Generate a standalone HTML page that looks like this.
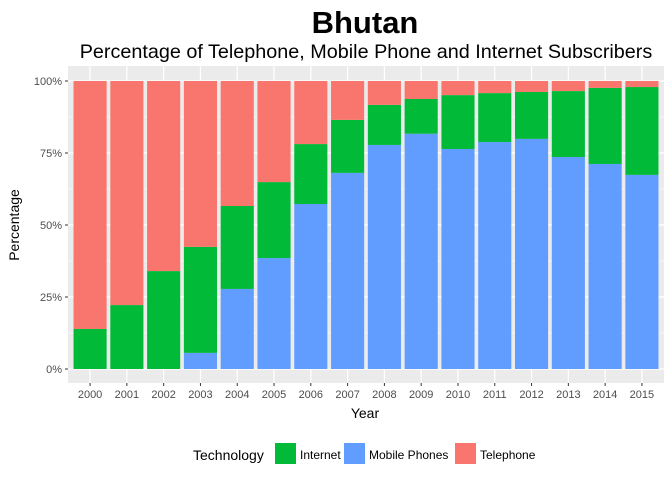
<!DOCTYPE html>
<html><head><meta charset="utf-8"><style>
body{margin:0;background:#fff;font-family:"Liberation Sans",sans-serif}
</style></head><body>
<svg id="chart" width="672" height="480" xmlns="http://www.w3.org/2000/svg">
<rect width="672" height="480" fill="#fff"/>
<text x="365" y="33" text-anchor="middle" font-size="31" font-weight="bold" fill="#000">Bhutan</text>
<text x="366" y="58" text-anchor="middle" font-size="19.8" fill="#000">Percentage of Telephone, Mobile Phone and Internet Subscribers</text>
<rect x="68" y="66" width="596" height="317" fill="#ebebeb"/>
<g id="grid"></g><g id="bars"></g><g id="axes"></g>
<text x="365" y="418" text-anchor="middle" font-size="14" fill="#000">Year</text>
<text transform="translate(19,225) rotate(-90)" text-anchor="middle" font-size="14" fill="#000">Percentage</text>
<g>
<text x="193" y="460" font-size="14" fill="#000">Technology</text>
<g><rect x="275" y="443" width="21" height="21" fill="#00ba38"/><text x="300" y="459" font-size="12">Internet</text></g>
<g><rect x="344" y="443" width="21" height="21" fill="#619cff"/><text x="369" y="459" font-size="12">Mobile Phones</text></g>
<g><rect x="455" y="443" width="21" height="21" fill="#f8766d"/><text x="480" y="459" font-size="12">Telephone</text></g>
</g>
</svg>
<script>
const years=["2000","2001","2002","2003","2004","2005","2006","2007","2008","2009","2010","2011","2012","2013","2014","2015"];
const mobile=[0,0,0,5.6,27.8,38.5,57.3,68.1,77.8,81.7,76.4,78.8,79.9,73.6,71.2,67.4];
const internet=[13.9,22.2,34.0,36.8,28.8,26.4,20.8,18.4,13.9,12.05,18.7,17.0,16.3,22.9,26.4,30.5];
const yTicks=[0,25,50,75,100];
const yTickLabels=["0%","25%","50%","75%","100%"];
const NS="http://www.w3.org/2000/svg";
const px0=68,pw=596,step=pw/(years.length+0.2);
const x=i=>px0+step*(i+0.6);
const y=v=>369-v*2.88;
const bw=step*0.9;
function mk(tag,attrs,parent){const e=document.createElementNS(NS,tag);for(const k in attrs)e.setAttribute(k,attrs[k]);parent.appendChild(e);return e;}
const grid=document.getElementById('grid'),bars=document.getElementById('bars'),axes=document.getElementById('axes');
for(let v=12.5;v<100;v+=25){const l=mk('line',{x1:68,x2:664,y1:y(v),y2:y(v),stroke:'#fff','stroke-width':0.6},grid);

}
yTicks.forEach((v,i)=>{const l=mk('line',{x1:68,x2:664,y1:y(v),y2:y(v),stroke:'#fff','stroke-width':1.2},grid);


const t=mk('text',{x:62,y:y(v)+4,'text-anchor':'end','font-size':11,fill:'#4d4d4d'},axes);t.textContent=yTickLabels[i];


const tk=mk('line',{x1:65,x2:68,y1:y(v),y2:y(v),stroke:'#333'},axes);

});
years.forEach((yr,i)=>{const cx=x(i);
const g=mk('line',{x1:cx,x2:cx,y1:66,y2:383,stroke:'#fff','stroke-width':1.2},grid);


const m=mobile[i],n=internet[i];
const segs=[[0,m,'#619cff','mobile'],[m,m+n,'#00ba38','internet'],[m+n,100,'#f8766d','telephone']];
segs.forEach(s=>{if(s[1]-s[0]<=0)return;const r=mk('rect',{x:cx-bw/2,y:y(s[1]),width:bw,height:y(s[0])-y(s[1]),fill:s[2]},bars);

});
const tk=mk('line',{x1:cx,x2:cx,y1:383,y2:386,stroke:'#333'},axes);


const tl=mk('text',{x:cx,y:398,'text-anchor':'middle','font-size':11,fill:'#4d4d4d'},axes);tl.textContent=yr;

});
</script>
</body></html>
